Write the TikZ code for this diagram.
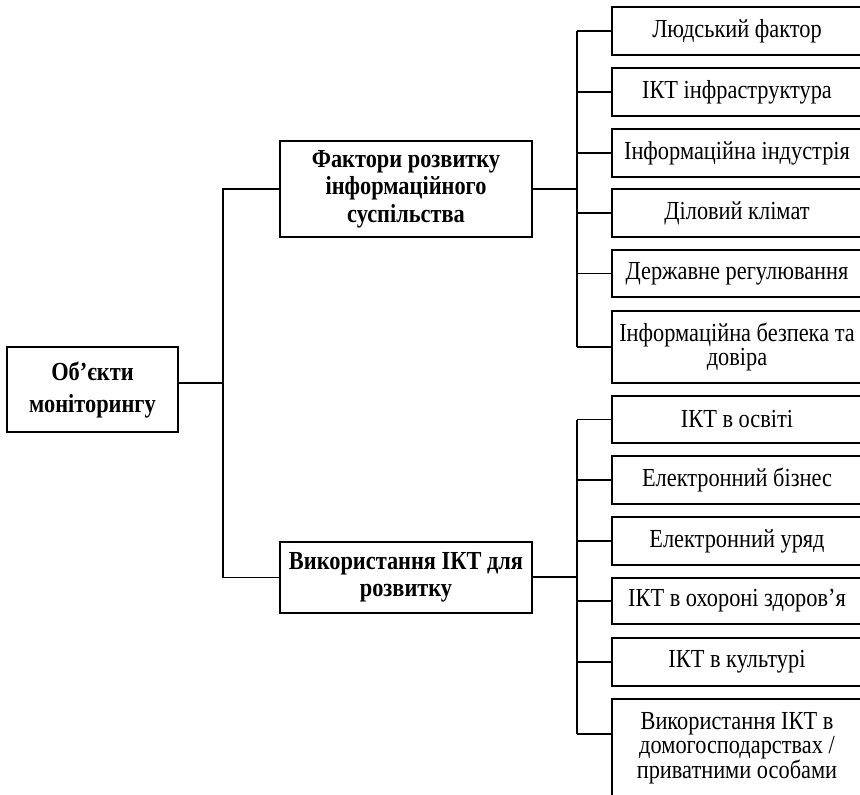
\documentclass[tikz,border=0pt]{standalone}
\usepackage{fontspec}
\setmainfont{Liberation Serif}[FakeStretch=0.86]
\usetikzlibrary{positioning}

\begin{document}
\begin{tikzpicture}%
            [x=1pt, y=-1pt,
             box/.style={draw, line width=1.6pt, align=center, inner sep=0pt},
             mainbox/.style={box, font=\bfseries\fontsize{26}{27.5}\selectfont},
             itembox/.style={box, minimum width=250pt, font=\fontsize{26}{22}\selectfont},
             link/.style={line width=1.6pt}]
            \useasboundingbox (0,0) rectangle (860,795);

            \node [mainbox, minimum width=171pt, minimum height=85pt,
                   font=\bfseries\fontsize{26}{32}\selectfont] (root) at (92.5,389.5) {Об’єкти\\моніторингу};
            \node [mainbox, minimum width=252pt, minimum height=96pt] (factors) at (406,189) {Фактори розвитку\\інформаційного\\суспільства};
            \node [mainbox, minimum width=252pt, minimum height=71pt] (usage) at (406,577.5) {Використання ІКТ для\\розвитку};

            \node [itembox, minimum height=48pt] (human) at (737,31) {Людський фактор};
            \node [itembox, minimum height=48pt] (infra) at (737,92) {ІКТ інфраструктура};
            \node [itembox, minimum height=48pt] (industry) at (737,153) {Інформаційна індустрія};
            \node [itembox, minimum height=48pt] (climate) at (737,213) {Діловий клімат};
            \node [itembox, minimum height=47pt] (regul) at (737,273.5) {Державне регулювання};
            \node [itembox, minimum height=72pt] (security) at (737,347) {Інформаційна безпека та\\довіра};

            \node [itembox, minimum height=47pt] (edu) at (737,419.5) {ІКТ в освіті};
            \node [itembox, minimum height=48pt] (ebiz) at (737,480) {Електронний бізнес};
            \node [itembox, minimum height=48pt] (egov) at (737,541) {Електронний уряд};
            \node [itembox, minimum height=46pt] (health) at (737,601) {ІКТ в охороні здоров’я};
            \node [itembox, minimum height=48pt] (culture) at (737,662) {ІКТ в культурі};
            \node [itembox, minimum height=98pt] (house) at (737,748) {Використання ІКТ в\\домогосподарствах /\\приватними особами};

            \coordinate (bus0) at (223,383);
            \coordinate (bus1) at (577,189);
            \coordinate (bus2) at (577,577);
            \coordinate (housej) at (577,734);

            \draw [link] (root.east |- bus0) -- (bus0);
            \draw [link] (factors.west) -| (bus0) |- (usage.west);
            \draw [link] (factors.east) -- (bus1);
            \draw [link] (usage.east |- bus2) -- (bus2);

            \draw [link] (bus1 |- human.west) -- (bus1 |- security.west);
            \draw [link] (bus1 |- human.west) -- (human.west);
            \draw [link] (bus1 |- infra.west) -- (infra.west);
            \draw [link] (bus1 |- industry.west) -- (industry.west);
            \draw [link] (bus1 |- climate.west) -- (climate.west);
            \draw [link] (bus1 |- regul.west) -- (regul.west);
            \draw [link] (bus1 |- security.west) -- (security.west);

            \draw [link] (bus2 |- edu.west) -- (housej);
            \draw [link] (bus2 |- edu.west) -- (edu.west);
            \draw [link] (bus2 |- ebiz.west) -- (ebiz.west);
            \draw [link] (bus2 |- egov.west) -- (egov.west);
            \draw [link] (bus2 |- health.west) -- (health.west);
            \draw [link] (bus2 |- culture.west) -- (culture.west);
            \draw [link] (housej) -- (housej -| house.west);

        \end{tikzpicture}
\end{document}
